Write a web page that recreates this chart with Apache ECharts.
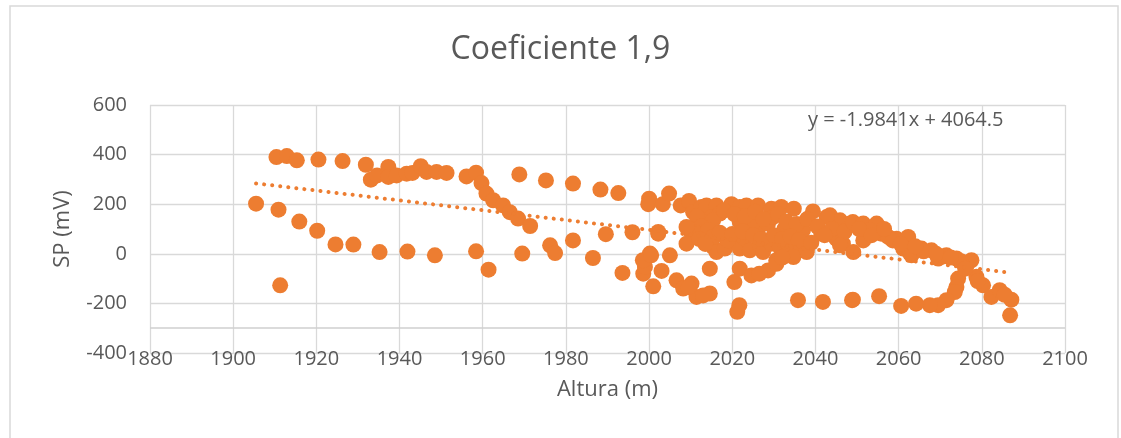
<!DOCTYPE html>
<html>
<head>
<meta charset="utf-8">
<script src="https://cdn.jsdelivr.net/npm/echarts@6/dist/echarts.min.js"></script>
<style>
html, body { margin: 0; padding: 0; background: #fff; }
#chart { width: 1121px; height: 438px; }
</style>
</head>
<body>
<div id="chart"></div>
<script>
// altura (m), SP (mV), grouped by cluster
var upperLeft = [[1910.4,390],[1912.9,394],[1915.3,377],[1920.5,380],[1926.3,374],[1931.9,359],[1933.1,299],[1934.6,316],[1937.3,350],[1937.3,310],[1939.3,316],[1941.7,323],[1943.1,326],[1945.1,353],[1946.5,330],[1948.9,330],[1951.3,326],[1956.1,312],[1958.4,327],[1959.7,285],[1960.9,243],[1962.5,216],[1964.9,195],[1966.5,168],[1968.5,142],[1971.4,112]]
var lowerLeft = [[1905.5,202],[1910.9,178],[1915.9,130],[1920.2,93],[1924.6,38],[1928.9,37],[1935.2,7],[1941.9,9],[1948.5,-6],[1958.4,10],[1961.4,-64],[1911.3,-127],[1969.5,1],[1976.2,34],[1977.4,3],[1981.7,54],[1986.5,-17],[1989.6,79],[1993.6,-77],[1996,87],[2002.2,81]]
var middleUpper = [[1968.8,320],[1975.2,296],[1981.7,283],[1988.3,259],[1992.6,245],[2000,222],[1999.8,200],[2003.3,200],[2004.8,243],[2007.6,195],[2009.6,213]]
var topBand = [[2010.6,168],[2012.6,189],[2013.8,195],[2016.2,195],[2015,148],[2013.4,128],[2017,162],[2019.8,200],[2021.8,189],[2023.4,195],[2026.2,195],[2029.4,182],[2031.8,189],[2034.8,182],[2039.4,171],[2043.5,155],[2045.9,135],[2048.3,122],[2049.9,115],[2021.8,128],[2024.2,115],[2026.2,101],[2028.6,122],[2029.8,148],[2032.6,101],[2037,95],[2041.4,81],[2045,61],[2046.6,41],[2042.7,148],[2024.7,122],[2015.4,135],[2011.5,150],[2012.5,110],[2018,175],[2020.5,160],[2023,150],[2025.5,170],[2027.5,140],[2031,160],[2033,130],[2035.5,120],[2038,140],[2040.5,110],[2044,100],[2047,90]]
var middleBand = [[2009.8,95],[2009,41],[2011.8,81],[2014.2,95],[2015.4,27],[2016.2,7],[2018.6,61],[2018.2,21],[2021,54],[2021.8,21],[2023,61],[2024.2,14],[2026.6,34],[2027.4,7],[2029.4,41],[2031.4,27],[2033.4,41],[2035,34],[2033,-6],[2036.3,21],[2037.9,7],[2034.7,-13],[2042.2,75],[2045.9,34],[2049.1,7],[2009,108],[2015.4,68],[2019,54],[2037.9,14],[2002.2,88],[2000.2,1],[2005,-6],[2012,60],[2013.5,40],[2017,85],[2020,80],[2022.5,90],[2025,75],[2027,60],[2030,75],[2032,60],[2034,70],[2036,55],[2039,45]]
var lowerMiddle = [[1998.6,-80],[1999,-53],[2001,-131],[2003,-69],[2006.6,-107],[2008.2,-140],[2010.2,-120],[2011.4,-174],[2014.6,-160],[2014.6,-60],[2020.5,-114],[2021.7,-207],[2021.2,-234],[2021.8,-60],[2024.6,-87],[2028.6,-67],[2030.6,-26],[2030.6,-40],[2035.8,-187],[2041.8,-194],[2048.8,-187],[1998.5,-26],[2000.5,-6],[2009.5,-135],[2013,-168],[2026.5,-80],[2032,-15]]
var rightEnd = [[2049,128],[2051.5,122],[2054.7,122],[2051.5,54],[2055.8,81],[2057.5,68],[2059.5,61],[2062.3,68],[2061.1,21],[2063.1,-6],[2065.5,21],[2067.9,14],[2069.5,-19],[2071.5,-6],[2073.9,-19],[2077.5,-26],[2074.3,-100],[2073.9,-134],[2073.5,-154],[2071.5,-187],[2069.5,-207],[2067.5,-207],[2064.2,-201],[2060.6,-210],[2055.3,-171],[2049,-185],[2078.7,-93],[2080.3,-127],[2082.3,-174],[2084.3,-147],[2087.1,-185],[2086.8,-248],[2053,95],[2058.6,54],[2062.7,2],[2066,10],[2071,-10],[2075,-30],[2076,-60],[2079,-110],[2050.5,100],[2053.5,75],[2056.5,100],[2060.5,40],[2064,30],[2069,0],[2072.5,-15],[2085.5,-165]]

// linear trendline shown in the chart
var trendSlope = -1.9841
var trendIntercept = 4064.5
var trendRange = [1905.5, 2087]

var orange = '#ED7D31'
var textColor = '#595959'
var gridColor = '#d9d9d9'
var font = 'Open Sans'

var points = [].concat(upperLeft, lowerLeft, middleUpper, topBand, middleBand, lowerMiddle, rightEnd)
var trendData = trendRange.map(function (x) { return [x, trendSlope * x + trendIntercept] })

var chart = echarts.init(document.getElementById('chart'))
chart.setOption({
  animation: false,
  title: {
    text: 'Coeficiente 1,9',
    left: 'center',
    top: 29,
    textStyle: { color: textColor, fontSize: 32, fontWeight: 'normal', fontFamily: font }
  },
  grid: { left: 150, right: 56, top: 105, bottom: 85 },
  xAxis: {
    type: 'value',
    min: 1880,
    max: 2100,
    interval: 20,
    name: 'Altura (m)',
    nameLocation: 'middle',
    nameGap: 26,
    nameTextStyle: { color: textColor, fontSize: 22, fontFamily: font },
    axisLine: { show: false },
    axisTick: { show: false },
    axisLabel: { color: textColor, fontSize: 20, fontFamily: font, margin: -4, formatter: function (v) { return String(v) } },
    splitLine: { show: true, lineStyle: { color: gridColor, width: 1.3 } }
  },
  yAxis: {
    type: 'value',
    min: -400,
    max: 600,
    interval: 200,
    name: 'SP (mV)',
    nameLocation: 'middle',
    nameGap: 76,
    nameTextStyle: { color: textColor, fontSize: 22, fontFamily: font },
    axisLine: { show: false },
    axisTick: { show: false },
    axisLabel: { color: textColor, fontSize: 20, fontFamily: font, margin: 23 },
    splitLine: { show: true, lineStyle: { color: gridColor, width: 1.3 } }
  },
  series: [
    {
      type: 'scatter',
      data: points,
      symbolSize: 16,
      itemStyle: { color: orange, opacity: 1 },
      markLine: {
        silent: true,
        symbol: 'none',
        label: { show: false },
        lineStyle: { color: '#cfcfcf', width: 1.6, type: 'solid' },
        data: [{ yAxis: -300 }]
      }
    },
    {
      type: 'line',
      data: trendData,
      symbol: 'none',
      lineStyle: { color: orange, width: 4, type: [0.1, 8], cap: 'round' },
      z: 3
    }
  ],
  graphic: [
    {
      type: 'rect',
      shape: { x: 10, y: 6, width: 1108, height: 450 },
      style: { fill: 'none', stroke: gridColor, lineWidth: 1.5 },
      silent: true
    },
    {
      type: 'text',
      x: 808,
      y: 120,
      style: { text: 'y = -1.9841x + 4064.5', fill: textColor, fontSize: 20, fontFamily: font, verticalAlign: 'middle' },
      z: 10
    }
  ]
})
</script>
</body>
</html>
